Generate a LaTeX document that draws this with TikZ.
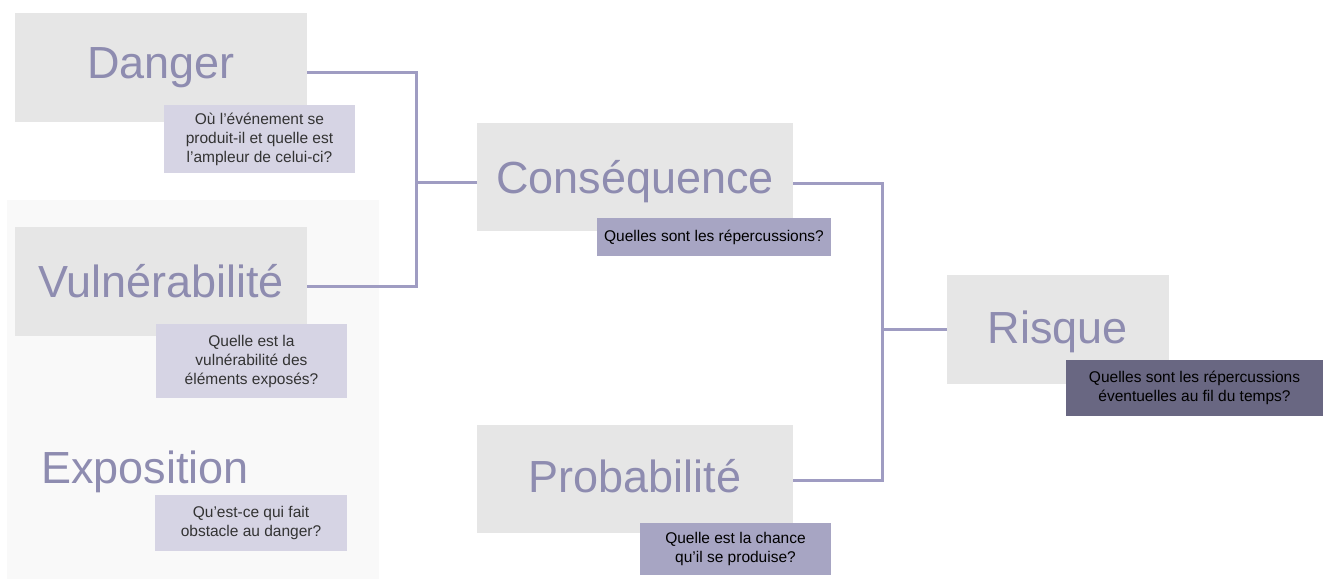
\documentclass[tikz,border=0pt]{standalone}
\usepackage{fontspec}
\setmainfont{Liberation Sans}
\definecolor{boxgray}{HTML}{E6E6E6}
\definecolor{panel}{HTML}{F9F9F9}
\definecolor{titlec}{HTML}{8E8CB0}
\definecolor{linec}{HTML}{9F9CC2}
\definecolor{sublight}{HTML}{D6D4E4}
\definecolor{submid}{HTML}{A7A5C3}
\definecolor{subdark}{HTML}{696782}
\definecolor{subtext}{HTML}{333333}
\tikzset{
  bigbox/.style={fill=boxgray, inner sep=0pt},
  bigtext/.style={inner sep=0pt, text=titlec, font=\fontsize{45}{54}\selectfont},
  subbox/.style={inner sep=0pt, align=center, font=\fontsize{15.5}{19}\selectfont},
  conn/.style={draw=linec, line width=3pt},
}
\begin{document}
\begin{tikzpicture}[x=1pt,y=-1pt]
\useasboundingbox[fill=white] (0,0) rectangle (1329,579);
\fill[panel] (7,200) rectangle (379,579);
% big boxes
\node[bigbox, minimum width=292, minimum height=109] (D) at (161,67.5) {};
\node[bigtext] (Dt) at (161,67.5) {Danger};
\node[bigbox, minimum width=292, minimum height=109] (V) at (161,281.5) {};
\node[bigtext] (Vt) at (161,281.5) {Vulnérabilité};
\node[bigtext] (E) at (145,472) {Exposition};
\node[bigbox, minimum width=316, minimum height=108] (C) at (635,177) {};
\node[bigtext] (Ct) at (635,182) {Conséquence};
\node[bigbox, minimum width=316, minimum height=108] (P) at (635,479) {};
\node[bigtext] (Pt) at (635,476) {Probabilité};
\node[bigbox, minimum width=222, minimum height=109] (R) at (1058,329.5) {};
\node[bigtext] (Rt) at (1058,331.5) {Risque};
% sub boxes
\node[subbox, fill=sublight, text=subtext, minimum width=191, minimum height=68] (Ds) at (259.5,139) {Où l’événement se\\produit-il et quelle est\\l’ampleur de celui-ci?};
\node[subbox, fill=sublight, text=subtext, minimum width=191, minimum height=74] (Vs) at (251.5,361) {Quelle est la\\vulnérabilité des\\éléments exposés?};
\node[subbox, fill=sublight, text=subtext, minimum width=192, minimum height=56] (Es) at (251,523) {Qu’est-ce qui fait\\obstacle au danger?};
\node[subbox, fill=submid, text=black, minimum width=234, minimum height=38] (Cs) at (714,237) {Quelles sont les répercussions?};
\node[subbox, fill=submid, text=black, minimum width=191, minimum height=52] (Ps) at (735.5,549) {Quelle est la chance\\qu’il se produise?};
\node[subbox, fill=subdark, text=black, minimum width=257, minimum height=56] (Rs) at (1194.5,388) {Quelles sont les répercussions\\éventuelles au fil du temps?};
% connectors
\draw[conn] ([yshift=-4.5]D.east) -- ++(109,0) coordinate (j1) |- ([yshift=-4.5]V.east);
\coordinate (m1) at (416,182);
\draw[conn] (m1) -- (m1 -| C.west);
\draw[conn] ([yshift=-6]C.east) -- ++(89,0) coordinate (j2) |- ([yshift=-1]P.east);
\coordinate (m2) at (882,329);
\draw[conn] (m2) -- (m2 -| R.west);
\end{tikzpicture}
\end{document}
